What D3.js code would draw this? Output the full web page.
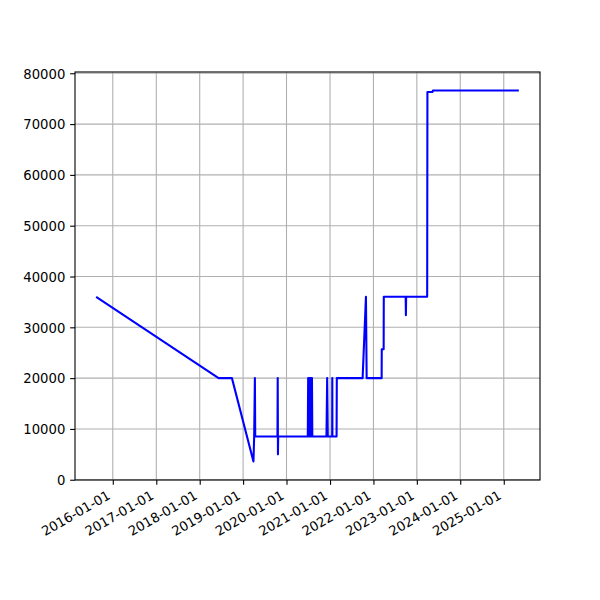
<!DOCTYPE html>
<html>
<head>
<meta charset="utf-8">
<script src="https://cdn.jsdelivr.net/npm/d3@7"></script>
<style>
  body { margin: 0; background: #fff; }
  svg { display: block; }
  text { font-family: "DejaVu Sans", sans-serif; font-size: 13.2px; fill: #000; }
</style>
</head>
<body>
<svg id="chart" width="600" height="600"></svg>
<script>
// ---- data ----
const dates = [
  "2015-08-14", "2018-06-09", "2018-09-29", "2019-03-29", "2019-04-04",
  "2019-04-10", "2019-04-13",
  "2019-10-17", "2019-10-19", "2019-10-21", "2019-10-23",
  "2020-06-28", "2020-07-01", "2020-07-05", "2020-07-09", "2020-07-13",
  "2020-07-17", "2020-07-21", "2020-07-25", "2020-07-29", "2020-08-02", "2020-08-05",
  "2020-12-02", "2020-12-08", "2020-12-13",
  "2021-01-19", "2021-01-20", "2021-01-21",
  "2021-02-25", "2021-02-27",
  "2021-10-02", "2021-10-30", "2021-11-05",
  "2022-03-11", "2022-03-12", "2022-03-28", "2022-03-29",
  "2022-09-29", "2022-10-01", "2022-10-03",
  "2023-03-29", "2023-03-31", "2023-05-13", "2023-05-16",
  "2025-05-08"
];
const values = [
  36000, 20000, 20000, 3600, 8500,
  20000, 8500,
  8500, 20000, 5000, 8500,
  8500, 20000, 8500, 20000, 8500,
  20000, 8500, 20000, 8500, 20000, 8500,
  8500, 20000, 8500,
  8500, 20000, 8500,
  8500, 20000,
  20000, 36000, 20000,
  20000, 25700, 25700, 36000,
  36000, 32400, 36000,
  36000, 76300, 76300, 76600,
  76600
];
const xTickLabels = ["2016-01-01","2017-01-01","2018-01-01","2019-01-01","2020-01-01",
                     "2021-01-01","2022-01-01","2023-01-01","2024-01-01","2025-01-01"];
const yTickValues = [0, 10000, 20000, 30000, 40000, 50000, 60000, 70000, 80000];

// ---- layout ----
const mLeft = 75, mRight = 540, mTop = 72, mBottom = 480;
const tickLen = 4.86, tickPad = 4.86, fontPx = 13.2;
const parse = d3.utcParse("%Y-%m-%d");
const data = dates.map((d, i) => ({ date: parse(d), value: values[i] }));

const xExt = d3.extent(data, d => +d.date);
const xPad = (xExt[1] - xExt[0]) * 0.05;
const x = d3.scaleUtc()
  .domain([new Date(xExt[0] - xPad), new Date(xExt[1] + xPad)])
  .range([mLeft, mRight]);

const yExt = d3.extent(data, d => d.value);
const yPad = (yExt[1] - yExt[0]) * 0.05;
const y = d3.scaleLinear()
  .domain([yExt[0] - yPad, yExt[1] + yPad])
  .range([mBottom, mTop]);

const svg = d3.select("#chart");
const xTicks = xTickLabels.map(parse);

// grid
const grid = svg.append("g");
grid.selectAll("line.xg").data(xTicks).join("line")
  .attr("class", "xg")
  .attr("x1", d => x(d)).attr("x2", d => x(d))
  .attr("y1", mTop).attr("y2", mBottom)
  .attr("stroke", "#b0b0b0").attr("stroke-width", 1.1);
grid.selectAll("line.yg").data(yTickValues).join("line")
  .attr("class", "yg")
  .attr("x1", mLeft).attr("x2", mRight)
  .attr("y1", d => y(d)).attr("y2", d => y(d))
  .attr("stroke", "#b0b0b0").attr("stroke-width", 1.1);

// line
const line = d3.line().x(d => x(d.date)).y(d => y(d.value));
svg.append("path").datum(data)
  .attr("d", line)
  .attr("fill", "none")
  .attr("stroke", "#0000ff")
  .attr("stroke-width", 2.08)
  .attr("stroke-linejoin", "round")
  .attr("stroke-linecap", "butt");

// x axis
const xAxis = svg.append("g").attr("transform", `translate(0,${mBottom})`)
  .call(d3.axisBottom(x).tickValues(xTicks).tickFormat(d3.utcFormat("%Y-%m-%d"))
    .tickSize(tickLen).tickSizeOuter(0));
xAxis.select(".domain").remove();
xAxis.selectAll(".tick line").attr("stroke", "#000").attr("stroke-width", 1.1);
xAxis.selectAll(".tick text")
  .attr("text-anchor", "end")
  .attr("y", 0).attr("dy", 0)
  .attr("transform", "translate(-2,18) rotate(-30)")
  .style("font-family", "DejaVu Sans").style("font-size", fontPx + "px");

// y axis
const yAxis = svg.append("g").attr("transform", `translate(${mLeft},0)`)
  .call(d3.axisLeft(y).tickValues(yTickValues).tickFormat(d3.format("d"))
    .tickSize(tickLen).tickPadding(tickPad).tickSizeOuter(0));
yAxis.select(".domain").remove();
yAxis.selectAll(".tick line").attr("stroke", "#000").attr("stroke-width", 1.1);
yAxis.selectAll(".tick text").attr("dy", "0.36em")
  .style("font-family", "DejaVu Sans").style("font-size", fontPx + "px");

// frame
svg.append("rect")
  .attr("x", mLeft).attr("y", mTop)
  .attr("width", mRight - mLeft).attr("height", mBottom - mTop)
  .attr("fill", "none").attr("stroke", "#000").attr("stroke-width", 1.1);
</script>
</body>
</html>
